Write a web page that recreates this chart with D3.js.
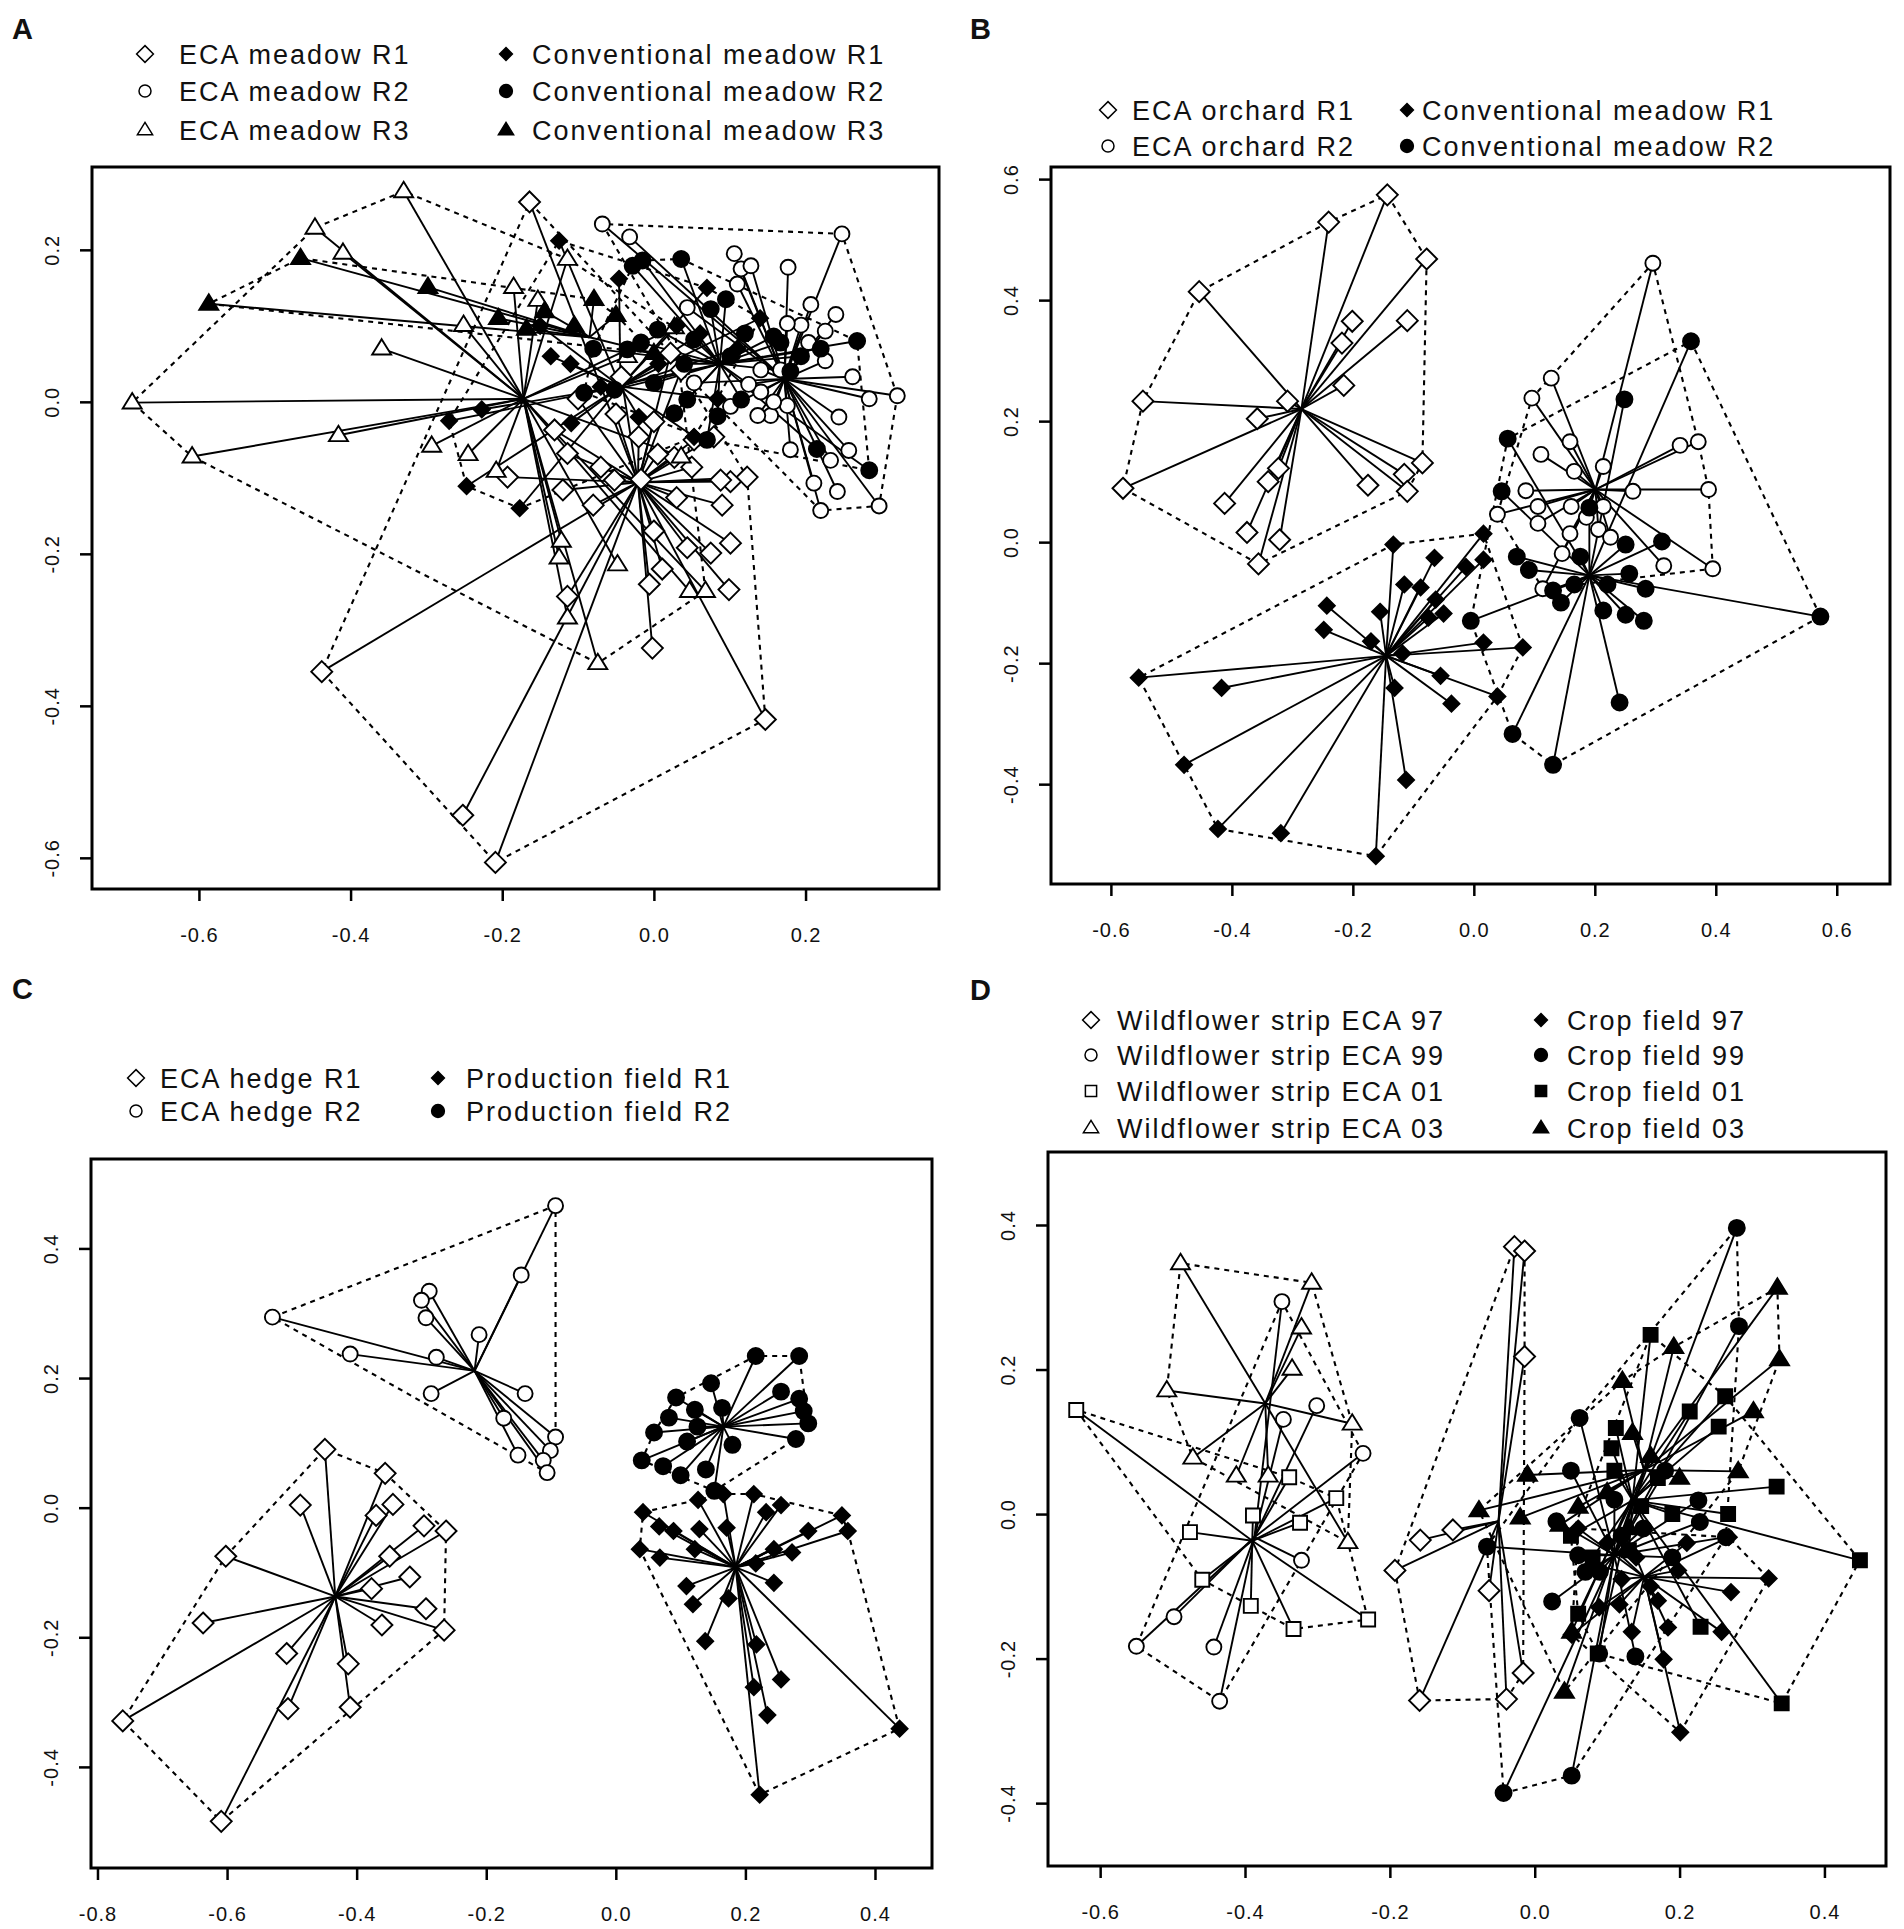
<!DOCTYPE html>
<html>
<head>
<meta charset="utf-8">
<script src="https://cdn.jsdelivr.net/npm/d3@7"></script>
<style>
  body { margin: 0; background: #fff; }
  text { font-family: "Liberation Sans", Arial, sans-serif; fill: #111; }
</style>
</head>
<body>
<svg id="chart"></svg>
<script>
// ---------- panel A : ECA meadow vs conventional meadow ----------
const aEcaR1 = [[-0.164,0.263],[0.123,-0.099],[0.101,-0.105],[0.079,-0.046],[0.053,-0.050],[0.027,-0.073],
  [0.005,-0.069],[-0.017,-0.102],[-0.052,-0.103],[-0.070,-0.086],[-0.114,-0.068],[-0.131,-0.037],[-0.193,-0.099],
  [-0.043,0.033],[0.036,0.042],[0.022,0.064],[0.101,-0.186],[0.075,-0.199],[0.000,-0.170],[0.099,-0.247],
  [0.147,-0.418],[-0.002,-0.324],[-0.006,-0.240],[0.011,-0.220],[-0.114,-0.256],[-0.438,-0.355],[-0.252,-0.544],
  [-0.209,-0.606],[0.044,-0.192],[0.088,-0.103],[-0.100,0.004],[-0.050,-0.016],[0.000,-0.026],[0.050,-0.086],
  [-0.120,-0.116],[-0.080,-0.136],[0.030,-0.126],[0.090,-0.136],[-0.020,-0.046]];
const aEcaR1Center = [-0.021,-0.106];
const aEcaR2 = [[-0.068,0.234],[-0.032,0.217],[0.248,0.221],[0.106,0.195],[0.115,0.175],[0.128,0.179],[0.177,0.177],
  [0.110,0.155],[0.207,0.128],[0.240,0.115],[0.226,0.093],[0.194,0.101],[0.176,0.103],[0.204,0.078],[0.226,0.054],
  [0.262,0.033],[0.284,0.004],[0.321,0.008],[0.244,-0.020],[0.180,-0.063],[0.211,-0.107],[0.242,-0.118],[0.220,-0.143],
  [0.297,-0.137],[0.257,-0.064],[0.233,-0.077],[0.154,-0.018],[0.176,-0.005],[0.158,0.000],[0.141,0.013],[0.125,0.023],
  [0.141,0.042],[0.167,0.042],[0.101,-0.006],[0.137,-0.018],[0.044,0.124],[0.053,0.025]];
const aEcaR2Center = [0.172,0.030];
const aEcaR3 = [[-0.688,-0.001],[-0.609,-0.072],[-0.416,-0.044],[-0.447,0.229],[-0.410,0.196],[-0.330,0.277],
  [-0.359,0.070],[-0.185,0.151],[-0.293,-0.058],[-0.245,-0.069],[-0.251,0.101],[-0.153,0.134],[-0.208,-0.091],
  [-0.122,-0.183],[-0.125,-0.205],[-0.114,-0.284],[-0.074,-0.344],[-0.048,-0.214],[0.047,-0.249],[0.068,-0.249],
  [-0.114,0.188],[-0.035,0.060],[0.027,0.098],[0.036,-0.072]];
const aEcaR3Center = [-0.172,0.004];
const aConvR1 = [[-0.270,-0.025],[-0.247,-0.111],[-0.177,-0.140],[-0.125,0.212],[-0.046,0.162],[-0.136,0.060],
  [-0.109,-0.028],[0.053,-0.046],[0.084,0.004],[-0.227,-0.010],[0.006,0.050],[0.061,0.090],[-0.150,0.100],
  [-0.110,0.050],[-0.070,0.020],[-0.020,-0.020],[0.030,0.100],[0.110,0.070],[0.140,0.110],[0.070,0.150]];
const aConvR1Center = [-0.044,0.020];
const aConvR2 = [[-0.028,0.179],[-0.015,0.186],[0.036,0.188],[0.095,0.135],[0.075,0.122],[0.005,0.095],[-0.017,0.078],
  [0.053,0.082],[0.101,0.060],[0.158,0.086],[0.167,0.078],[0.194,0.060],[0.268,0.080],[0.000,0.025],[-0.052,0.016],
  [-0.092,0.012],[0.027,-0.015],[0.044,0.003],[0.084,-0.019],[0.215,-0.062],[0.284,-0.090],[0.115,0.003],[-0.035,0.069],
  [0.120,0.090],[0.180,0.040],[0.220,0.070],[0.040,0.050],[-0.080,0.070],[0.070,-0.050]];
const aConvR2Center = [0.087,0.050];
const aConvR3 = [[-0.587,0.129],[-0.466,0.189],[-0.298,0.151],[-0.205,0.110],[-0.168,0.096],[-0.079,0.135],
  [-0.144,0.119],[-0.105,0.100],[-0.050,0.114],[0.000,0.064]];
const aConvR3Center = [-0.085,0.085];

// ---------- panel B : ECA orchard vs conventional meadow ----------
const bEcaR1 = [[-0.143,0.574],[-0.240,0.529],[-0.078,0.468],[-0.454,0.414],[-0.201,0.365],[-0.110,0.366],
  [-0.218,0.329],[-0.215,0.259],[-0.308,0.233],[-0.547,0.233],[-0.358,0.204],[-0.085,0.131],[-0.115,0.112],
  [-0.323,0.122],[-0.340,0.100],[-0.175,0.094],[-0.580,0.089],[-0.110,0.084],[-0.412,0.064],[-0.375,0.016],
  [-0.321,0.004],[-0.356,-0.036]];
const bEcaR1Center = [-0.285,0.220];
const bEcaR2 = [[0.296,0.461],[0.128,0.271],[0.096,0.238],[0.159,0.166],[0.111,0.145],[0.341,0.160],[0.371,0.166],
  [0.166,0.117],[0.214,0.125],[0.086,0.085],[0.263,0.084],[0.388,0.087],[0.106,0.059],[0.161,0.059],[0.214,0.059],
  [0.039,0.046],[0.106,0.031],[0.206,0.021],[0.159,0.014],[0.226,0.008],[0.146,-0.019],[0.314,-0.039],[0.395,-0.044],
  [0.114,-0.077],[0.186,0.041]];
const bEcaR2Center = [0.201,0.087];
const bConvR1 = [[-0.554,-0.224],[-0.417,-0.241],[-0.479,-0.368],[-0.423,-0.474],[-0.319,-0.481],[-0.162,-0.519],
  [-0.112,-0.393],[-0.131,-0.241],[-0.037,-0.267],[-0.055,-0.221],[0.039,-0.255],[0.081,-0.174],[0.016,-0.166],
  [-0.133,-0.004],[-0.065,-0.026],[-0.115,-0.070],[-0.088,-0.075],[-0.013,-0.041],[0.016,-0.029],[0.016,0.014],
  [-0.243,-0.105],[-0.248,-0.145],[-0.155,-0.115],[-0.170,-0.164],[-0.063,-0.095],[-0.050,-0.118],[-0.075,-0.125],
  [-0.118,-0.184]];
const bConvR1Center = [-0.145,-0.188];
const bConvR2 = [[0.359,0.332],[0.249,0.236],[0.056,0.171],[0.046,0.084],[0.071,-0.024],[0.091,-0.046],[0.131,-0.080],
  [0.144,-0.100],[0.166,-0.070],[0.176,-0.024],[0.191,0.057],[0.214,-0.113],[0.251,-0.004],[0.257,-0.052],
  [0.284,-0.077],[0.311,0.001],[0.251,-0.120],[0.281,-0.130],[0.241,-0.265],[0.131,-0.368],[0.064,-0.317],
  [-0.005,-0.130],[0.573,-0.123],[0.221,-0.070]];
const bConvR2Center = [0.191,-0.055];

// ---------- panel C : ECA hedge vs production field ----------
const cHedgeR1 = [[-0.449,0.090],[-0.356,0.053],[-0.487,0.004],[-0.344,0.005],[-0.370,-0.012],[-0.296,-0.028],
  [-0.262,-0.036],[-0.602,-0.075],[-0.349,-0.075],[-0.318,-0.107],[-0.377,-0.125],[-0.293,-0.156],[-0.637,-0.178],
  [-0.361,-0.181],[-0.265,-0.189],[-0.508,-0.225],[-0.413,-0.241],[-0.506,-0.310],[-0.410,-0.308],[-0.761,-0.329],
  [-0.609,-0.484]];
const cHedgeR1Center = [-0.433,-0.137];
const cHedgeR2 = [[-0.093,0.466],[-0.146,0.359],[-0.288,0.334],[-0.300,0.320],[-0.293,0.293],[-0.530,0.294],
  [-0.211,0.267],[-0.410,0.237],[-0.277,0.232],[-0.285,0.176],[-0.140,0.176],[-0.173,0.138],[-0.093,0.109],
  [-0.101,0.088],[-0.112,0.073],[-0.151,0.081],[-0.106,0.054]];
const cHedgeR2Center = [-0.218,0.211];
const cProdR1 = [[0.166,0.021],[0.213,0.021],[0.127,0.012],[0.255,0.004],[0.232,-0.007],[0.042,-0.007],[0.349,-0.012],
  [0.067,-0.029],[0.129,-0.033],[0.171,-0.031],[0.358,-0.036],[0.297,-0.036],[0.089,-0.036],[0.037,-0.064],
  [0.068,-0.077],[0.122,-0.064],[0.244,-0.064],[0.272,-0.069],[0.216,-0.086],[0.109,-0.121],[0.244,-0.116],
  [0.119,-0.149],[0.174,-0.140],[0.138,-0.206],[0.217,-0.211],[0.213,-0.277],[0.255,-0.265],[0.234,-0.320],
  [0.438,-0.341],[0.222,-0.443]];
const cProdR1Center = [0.185,-0.092];
const cProdR2 = [[0.216,0.234],[0.283,0.234],[0.147,0.192],[0.255,0.179],[0.283,0.168],[0.093,0.170],[0.122,0.151],
  [0.164,0.154],[0.082,0.139],[0.290,0.149],[0.297,0.130],[0.059,0.116],[0.126,0.125],[0.180,0.097],[0.110,0.102],
  [0.278,0.106],[0.040,0.073],[0.073,0.064],[0.100,0.050],[0.139,0.059],[0.152,0.026]];
const cProdR2Center = [0.166,0.125];

// ---------- panel D : wildflower strip ECA vs crop field ----------
const dEca97 = [[-0.028,0.370],[-0.014,0.364],[-0.014,0.218],[-0.193,-0.078],[-0.158,-0.036],[-0.113,-0.022],
  [-0.063,-0.106],[-0.016,-0.220],[-0.039,-0.256],[-0.159,-0.258]];
const dEca97Center = [-0.050,-0.010];
const dEca99 = [[-0.349,0.294],[-0.301,0.150],[-0.347,0.131],[-0.237,0.084],[-0.322,-0.064],[-0.498,-0.142],
  [-0.550,-0.183],[-0.443,-0.184],[-0.435,-0.259]];
const dEca99Center = [-0.387,-0.032];
const dEca01 = [[-0.633,0.144],[-0.476,-0.025],[-0.459,-0.091],[-0.389,-0.002],[-0.339,0.051],[-0.274,0.022],
  [-0.324,-0.012],[-0.392,-0.127],[-0.333,-0.159],[-0.230,-0.146]];
const dEca01Center = [-0.390,-0.037];
const dEca03 = [[-0.489,0.347],[-0.308,0.320],[-0.322,0.258],[-0.335,0.201],[-0.508,0.171],[-0.472,0.078],
  [-0.412,0.053],[-0.368,0.053],[-0.252,0.125],[-0.258,-0.039]];
const dEca03Center = [-0.372,0.153];
const dCrop97 = [[0.323,-0.089],[0.271,-0.108],[0.258,-0.163],[0.201,-0.302],[0.178,-0.201],[0.184,-0.157],
  [0.134,-0.163],[0.117,-0.125],[0.198,-0.078],[0.089,-0.129],[0.051,-0.167],[0.268,-0.032],[0.160,-0.100],
  [0.140,-0.060],[0.210,-0.040],[0.080,-0.070],[0.100,-0.040],[0.170,-0.120],[0.120,-0.090],[0.060,-0.020]];
const dCrop97Center = [0.151,-0.087];
const dCrop99 = [[0.279,0.396],[0.282,0.260],[0.062,0.133],[0.051,-0.362],[-0.043,-0.386],[0.024,-0.121],
  [0.139,-0.197],[0.089,-0.193],[0.226,0.019],[0.228,-0.011],[0.264,-0.032],[0.060,-0.057],[-0.066,-0.045],
  [0.050,0.060],[0.090,-0.080],[0.180,0.060],[0.120,-0.030],[0.070,-0.080],[0.150,-0.020],[0.110,0.020],
  [0.190,-0.060],[0.030,-0.010]];
const dCrop99Center = [0.110,-0.057];
const dCrop01 = [[0.160,0.248],[0.263,0.163],[0.254,0.121],[0.214,0.142],[0.112,0.119],[0.106,0.091],[0.334,0.038],
  [0.449,-0.064],[0.341,-0.262],[0.229,-0.156],[0.060,-0.138],[0.267,0.000],[0.087,-0.193],[0.147,0.011],
  [0.170,0.050],[0.130,-0.050],[0.080,-0.060],[0.190,0.000],[0.050,-0.030],[0.110,0.060]];
const dCrop01Center = [0.135,0.019];
const dCrop03 = [[0.335,0.313],[0.338,0.214],[0.192,0.231],[0.121,0.184],[0.302,0.142],[0.281,0.059],[0.135,0.112],
  [-0.010,0.054],[-0.020,-0.005],[-0.077,0.005],[0.035,-0.015],[0.041,-0.246],[0.051,-0.163],[0.200,0.050],
  [0.100,0.030],[0.060,0.010],[0.160,0.080],[0.130,-0.020]];
const dCrop03Center = [0.151,0.061];

// tick values
const aXTicks = [-0.6,-0.4,-0.2,0.0,0.2], aYTicks = [-0.6,-0.4,-0.2,0.0,0.2];
const bXTicks = [-0.6,-0.4,-0.2,0.0,0.2,0.4,0.6], bYTicks = [-0.4,-0.2,0.0,0.2,0.4,0.6];
const cXTicks = [-0.8,-0.6,-0.4,-0.2,0.0,0.2,0.4], cYTicks = [-0.4,-0.2,0.0,0.2,0.4];
const dXTicks = [-0.6,-0.4,-0.2,0.0,0.2,0.4], dYTicks = [-0.4,-0.2,0.0,0.2,0.4];

// ---------- layout ----------
const W = 1904, H = 1929;
const panels = [
  { tag: 'A', tagPos: [12, 39], box: [92, 167, 939, 889], xDom: [-0.741, 0.376], yDom: [-0.641, 0.309],
    xTicks: aXTicks, yTicks: aYTicks,
    groups: [
      { pts: aEcaR1, c: aEcaR1Center, sym: 'diamond', fill: false, label: 'ECA meadow R1' },
      { pts: aEcaR2, c: aEcaR2Center, sym: 'circle', fill: false, label: 'ECA meadow R2' },
      { pts: aEcaR3, c: aEcaR3Center, sym: 'triangle', fill: false, label: 'ECA meadow R3' },
      { pts: aConvR1, c: aConvR1Center, sym: 'diamond', fill: true, label: 'Conventional meadow R1' },
      { pts: aConvR2, c: aConvR2Center, sym: 'circle', fill: true, label: 'Conventional meadow R2' },
      { pts: aConvR3, c: aConvR3Center, sym: 'triangle', fill: true, label: 'Conventional meadow R3' }],
    legend: { rows: [54, 91, 130], cols: [[145, 179], [506, 532]], perCol: 3 } },
  { tag: 'B', tagPos: [970, 39], box: [1051, 167, 1890, 884], xDom: [-0.699, 0.688], yDom: [-0.565, 0.620],
    xTicks: bXTicks, yTicks: bYTicks,
    groups: [
      { pts: bEcaR1, c: bEcaR1Center, sym: 'diamond', fill: false, label: 'ECA orchard R1' },
      { pts: bEcaR2, c: bEcaR2Center, sym: 'circle', fill: false, label: 'ECA orchard R2' },
      { pts: bConvR1, c: bConvR1Center, sym: 'diamond', fill: true, label: 'Conventional meadow R1' },
      { pts: bConvR2, c: bConvR2Center, sym: 'circle', fill: true, label: 'Conventional meadow R2' }],
    legend: { rows: [110, 146], cols: [[1108, 1132], [1407, 1422]], perCol: 2 } },
  { tag: 'C', tagPos: [12, 999], box: [91, 1159, 932, 1868], xDom: [-0.810, 0.488], yDom: [-0.556, 0.538],
    xTicks: cXTicks, yTicks: cYTicks,
    groups: [
      { pts: cHedgeR1, c: cHedgeR1Center, sym: 'diamond', fill: false, label: 'ECA hedge R1' },
      { pts: cHedgeR2, c: cHedgeR2Center, sym: 'circle', fill: false, label: 'ECA hedge R2' },
      { pts: cProdR1, c: cProdR1Center, sym: 'diamond', fill: true, label: 'Production field R1' },
      { pts: cProdR2, c: cProdR2Center, sym: 'circle', fill: true, label: 'Production field R2' }],
    legend: { rows: [1078, 1111], cols: [[136, 160], [438, 466]], perCol: 2 } },
  { tag: 'D', tagPos: [970, 1000], box: [1048, 1152, 1886, 1866], xDom: [-0.672, 0.485], yDom: [-0.487, 0.501],
    xTicks: dXTicks, yTicks: dYTicks,
    groups: [
      { pts: dEca97, c: dEca97Center, sym: 'diamond', fill: false, label: 'Wildflower strip ECA 97' },
      { pts: dEca99, c: dEca99Center, sym: 'circle', fill: false, label: 'Wildflower strip ECA 99' },
      { pts: dEca01, c: dEca01Center, sym: 'square', fill: false, label: 'Wildflower strip ECA 01' },
      { pts: dEca03, c: dEca03Center, sym: 'triangle', fill: false, label: 'Wildflower strip ECA 03' },
      { pts: dCrop97, c: dCrop97Center, sym: 'diamond', fill: true, label: 'Crop field 97' },
      { pts: dCrop99, c: dCrop99Center, sym: 'circle', fill: true, label: 'Crop field 99' },
      { pts: dCrop01, c: dCrop01Center, sym: 'square', fill: true, label: 'Crop field 01' },
      { pts: dCrop03, c: dCrop03Center, sym: 'triangle', fill: true, label: 'Crop field 03' }],
    legend: { rows: [1020, 1055, 1091, 1128], cols: [[1091, 1117], [1541, 1567]], perCol: 4 } }
];

// symbol path, k scales the size (1 = plot, smaller for legend)
function symbolPath(sym, fill, k) {
  if (sym === 'diamond') {
    const r = (fill ? 8 : 10.5) * k;
    return `M0,${-r}L${r},0L0,${r}L${-r},0Z`;
  }
  if (sym === 'circle') {
    const r = (fill ? 8 : 7.5) * k;
    return `M${r},0A${r},${r} 0 1,1 ${-r},0A${r},${r} 0 1,1 ${r},0Z`;
  }
  if (sym === 'square') {
    const h = 7 * k;
    return `M${-h},${-h}H${h}V${h}H${-h}Z`;
  }
  const s = 9.5 * k; // triangle
  return `M0,${-s}L${s},${s * 0.62}L${-s},${s * 0.62}Z`;
}

const fmt = v => v.toFixed(1);

const svg = d3.select('#chart').attr('width', W).attr('height', H).attr('viewBox', [0, 0, W, H]);
svg.append('rect').attr('width', W).attr('height', H).attr('fill', '#fff');

panels.forEach(p => {
  const [x0, y0, x1, y1] = p.box;
  const x = d3.scaleLinear().domain(p.xDom).range([x0, x1]);
  const y = d3.scaleLinear().domain(p.yDom).range([y1, y0]);
  const g = svg.append('g');

  // panel letter
  g.append('text').attr('x', p.tagPos[0]).attr('y', p.tagPos[1])
    .attr('font-size', 29).attr('font-weight', 'bold').text(p.tag);

  const plot = g.append('g');
  // convex hulls (dashed)
  p.groups.forEach(gr => {
    const hull = d3.polygonHull(gr.pts.map(d => [x(d[0]), y(d[1])]));
    plot.append('path').attr('d', 'M' + hull.join('L') + 'Z')
      .attr('fill', 'none').attr('stroke', '#000').attr('stroke-width', 2.1)
      .attr('stroke-dasharray', '5,5');
  });
  // spiders
  p.groups.forEach(gr => {
    plot.append('g').selectAll('line').data(gr.pts).join('line')
      .attr('x1', x(gr.c[0])).attr('y1', y(gr.c[1]))
      .attr('x2', d => x(d[0])).attr('y2', d => y(d[1]))
      .attr('stroke', '#000').attr('stroke-width', 1.9);
  });
  // points
  p.groups.forEach(gr => {
    plot.append('g').selectAll('path').data(gr.pts).join('path')
      .attr('transform', d => `translate(${x(d[0])},${y(d[1])})`)
      .attr('d', symbolPath(gr.sym, gr.fill, 1))
      .attr('fill', gr.fill ? '#000' : '#fff')
      .attr('stroke', '#000').attr('stroke-width', 1.9);
  });

  // box
  g.append('rect').attr('x', x0).attr('y', y0).attr('width', x1 - x0).attr('height', y1 - y0)
    .attr('fill', 'none').attr('stroke', '#000').attr('stroke-width', 3);

  // x axis
  const ax = g.append('g').attr('transform', `translate(0,${y1})`)
    .call(d3.axisBottom(x).tickValues(p.xTicks).tickSize(12).tickPadding(27).tickFormat(fmt));
  ax.select('.domain').remove();
  ax.selectAll('line').attr('stroke-width', 2.5);
  ax.selectAll('text').attr('font-size', 20).attr('letter-spacing', 1)
    .attr('font-family', '"Liberation Sans", Arial, sans-serif').attr('fill', '#222');

  // y axis with rotated labels
  const ay = g.append('g').attr('transform', `translate(${x0},0)`)
    .call(d3.axisLeft(y).tickValues(p.yTicks).tickSize(12).tickFormat(fmt));
  ay.select('.domain').remove();
  ay.selectAll('line').attr('stroke-width', 2.5);
  ay.selectAll('text').attr('x', null).attr('dy', null).attr('text-anchor', 'middle')
    .attr('transform', 'translate(-33,0) rotate(-90)')
    .attr('font-size', 20).attr('letter-spacing', 1)
    .attr('font-family', '"Liberation Sans", Arial, sans-serif').attr('fill', '#222');

  // legend
  p.groups.forEach((gr, i) => {
    const col = p.legend.cols[Math.floor(i / p.legend.perCol)];
    const ry = p.legend.rows[i % p.legend.perCol];
    g.append('path').attr('transform', `translate(${col[0]},${ry})`)
      .attr('d', symbolPath(gr.sym, gr.fill, 0.8))
      .attr('fill', gr.fill ? '#000' : '#fff').attr('stroke', '#000').attr('stroke-width', 1.5);
    g.append('text').attr('x', col[1]).attr('y', ry + 9.5)
      .attr('font-size', 27).attr('letter-spacing', 2).attr('fill', '#222').text(gr.label);
  });
});
</script>
</body>
</html>
